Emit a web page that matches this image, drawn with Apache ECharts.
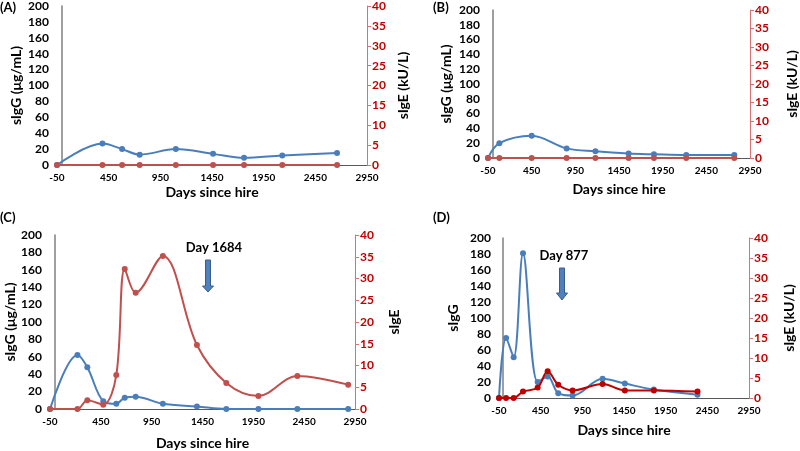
<!DOCTYPE html>
<html><head><meta charset="utf-8">
<script src="https://cdn.jsdelivr.net/npm/echarts@6/dist/echarts.min.js"></script>
<style>html,body{margin:0;padding:0;background:#fff}#c{width:800px;height:451px}</style>
</head><body><div id="c"></div>
<script>
// Panel A
const A_days = [-50, 390, 580, 750, 1100, 1460, 1760, 2130, 2660];
const A_sIgG = [0, 27, 20, 13, 20, 14, 9, 12, 15];
const A_sIgE = [0, 0, 0, 0, 0, 0, 0, 0, 0];
// Panel B
const B_days = [-50, 80, 450, 850, 1180, 1560, 1850, 2220, 2770];
const B_sIgG = [0, 20, 30, 13, 9, 6, 5, 4, 4];
const B_sIgE = [0, 0, 0, 0, 0, 0, 0, 0, 0];
// Panel C
const C_days = [-50, 220, 317, 474, 602, 685, 793, 1060, 1395, 1684, 2000, 2383, 2883];
const C_sIgG = [0, 62, 48, 9, 6, 13, 14, 6, 3, 0, 0, 0, 0];
const C_sIgE = [0, 0, 2, 1, 7.8, 32.2, 26.7, 35.2, 14.7, 6, 3, 7.6, 5.6];
// Panel D
const D_days = [-50, 35, 126, 238, 414, 534, 661, 833, 1193, 1460, 1808, 2332];
const D_sIgG = [0, 75, 51, 181, 20, 27, 6, 3, 24, 18, 10.5, 4.2];
const D_sIgE = [0, 0, 0, 1.6, 2.6, 6.7, 3.3, 1.9, 3.5, 1.9, 1.9, 1.6];

const panelLabels = ['(A)', '(B)', '(C)', '(D)'];
const xTitle = 'Days since hire';
const leftTitles = ['sIgG (μg/mL)', 'sIgG (μg/mL)', 'sIgG (μg/mL)', 'sIgG'];
const rightTitles = ['sIgE (kU/L)', 'sIgE (kU/L)', 'sIgE', 'sIgE (kU/L)'];
const arrowTexts = ['Day 1684', 'Day 877'];

const FONT = 'Lato, "Open Sans", sans-serif';
const BLUE = '#4A7EBB';
const RED = '#C0504D';
const DRED = '#C00000';

const grids = [
  {left: 57, top: 6, width: 310, height: 159},
  {left: 488, top: 10, width: 262, height: 148},
  {left: 50, top: 235, width: 305, height: 175},
  {left: 499, top: 238, width: 250, height: 160}
];
const xGaps = [20, 24, 27, 25];
const leftGaps = [34, 35, 32, 39];
const rightGaps = [29, 35, 32, 33];

const panels = [
  [A_days, A_sIgG, A_sIgE, RED],
  [B_days, B_sIgG, B_sIgE, RED],
  [C_days, C_sIgG, C_sIgE, RED],
  [D_days, D_sIgG, D_sIgE, DRED]
];

const xAxis = [], yAxis = [], series = [];
grids.forEach((g, i) => {
  xAxis.push({
    type: 'value', gridIndex: i, min: -50, max: 2950, interval: 500,
    name: xTitle, nameLocation: 'middle', nameGap: xGaps[i],
    nameTextStyle: {fontFamily: FONT, fontWeight: 'bold', fontSize: 14, color: '#000'},
    axisLine: {onZero: false, lineStyle: {color: '#595959', width: 1}},
    axisTick: {show: false},
    splitLine: {show: false},
    axisLabel: {fontFamily: FONT, fontWeight: 'bold', fontSize: 10, color: '#000', margin: 8,
      formatter: v => String(v)}
  });
  yAxis.push({
    type: 'value', gridIndex: i, position: 'left', min: 0, max: 200, interval: 20,
    name: leftTitles[i], nameLocation: 'middle', nameGap: leftGaps[i], nameRotate: 90,
    nameTextStyle: {fontFamily: FONT, fontWeight: 'bold', fontSize: 14, color: '#000'},
    axisLine: {show: true, lineStyle: {color: '#7F7F7F', width: 1.5}},
    axisTick: {show: false},
    splitLine: {show: false},
    axisLabel: {fontFamily: FONT, fontWeight: 'bold', fontSize: 12, color: '#000', margin: 8}
  });
  yAxis.push({
    type: 'value', gridIndex: i, position: 'right', min: 0, max: 40, interval: 5,
    name: rightTitles[i], nameLocation: 'middle', nameGap: rightGaps[i], nameRotate: 90,
    nameTextStyle: {fontFamily: FONT, fontWeight: 'bold', fontSize: 14, color: '#000'},
    axisLine: {show: true, lineStyle: {color: '#E07070', width: 1}},
    axisTick: {show: true, length: 4, lineStyle: {color: '#E07070'}},
    splitLine: {show: false},
    axisLabel: {fontFamily: FONT, fontWeight: 'bold', fontSize: 12, color: '#C00000', margin: 5}
  });
  const [days, g1, e1, rc] = panels[i];
  series.push({
    type: 'line', xAxisIndex: i, yAxisIndex: 2 * i, smooth: 0.35,
    data: days.map((d, k) => [d, g1[k]]),
    symbol: 'circle', symbolSize: 6, z: 3,
    lineStyle: {color: BLUE, width: 2}, itemStyle: {color: BLUE}
  });
  series.push({
    type: 'line', xAxisIndex: i, yAxisIndex: 2 * i + 1, smooth: 0.35,
    data: days.map((d, k) => [d, e1[k]]),
    symbol: 'circle', symbolSize: 6, z: 4,
    lineStyle: {color: rc, width: 2}, itemStyle: {color: rc}
  });
});

function arrow(cx, top, bottom, headLen) {
  const bw = 2.5, hw = 5.5, hy = bottom - headLen;
  return {
    type: 'polygon',
    shape: {points: [[cx - bw, top], [cx + bw, top], [cx + bw, hy], [cx + hw, hy], [cx, bottom], [cx - hw, hy], [cx - bw, hy]]},
    style: {fill: '#4F81BD', stroke: '#385D8A', lineWidth: 1}
  };
}
const txt = (x, y, t, size, align) => ({
  type: 'text', x: x, y: y,
  style: {text: t, fontFamily: FONT, fontWeight: 'bold', fontSize: size, fill: '#000', align: align || 'left', verticalAlign: 'middle'}
});

const graphic = [
  txt(0, 8, panelLabels[0], 13),
  txt(433, 8, panelLabels[1], 13),
  txt(0, 218, panelLabels[2], 13),
  txt(433, 218, panelLabels[3], 13),
  txt(214, 248, arrowTexts[0], 13, 'center'),
  txt(564, 256, arrowTexts[1], 13, 'center'),
  arrow(208, 260, 292, 6),
  arrow(562, 268, 300, 7)
];

const chart = echarts.init(document.getElementById('c'));
chart.setOption({
  animation: false,
  backgroundColor: '#fff',
  grid: grids,
  xAxis: xAxis,
  yAxis: yAxis,
  series: series,
  graphic: graphic
});
</script></body></html>
